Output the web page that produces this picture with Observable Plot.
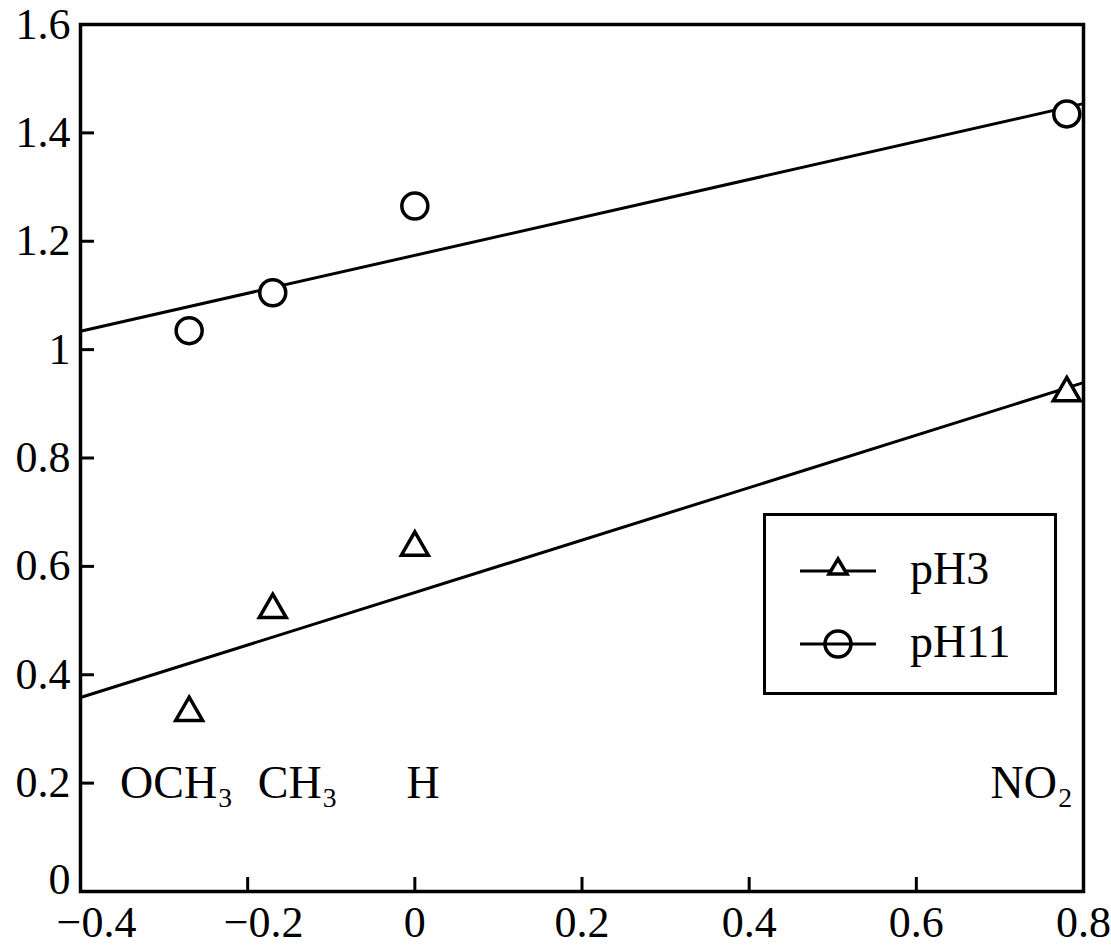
<!DOCTYPE html>
<html>
<head>
<meta charset="utf-8">
<script src="https://cdn.jsdelivr.net/npm/d3@7"></script>
<script src="https://cdn.jsdelivr.net/npm/@observablehq/plot@0.6"></script>
<style>
  html, body { margin: 0; padding: 0; background: #fff; }
  #wrap { position: relative; width: 1111px; height: 949px; font-family: "Liberation Serif", "DejaVu Serif", serif; }
  #legend { position: absolute; left: 763px; top: 513px; width: 288px; height: 176px; border: 3px solid #000; background: #fff; }
  .row { position: absolute; left: 0; height: 40px; }
  .row svg { position: absolute; left: 34px; top: 0; }
  .row span { position: absolute; left: 144px; top: -7px; font-size: 46px; line-height: 50px; color: #000; }
</style>
</head>
<body>
<div id="wrap"></div>
<script>
// Hammett substituent constants (sigma) and measured values
const substituents = ["OCH₃", "CH₃", "H", "NO₂"];
const sigma = [-0.27, -0.17, 0, 0.78];
const pH3 = [0.33, 0.52, 0.635, 0.92];
const pH11 = [1.035, 1.105, 1.265, 1.435];
// label anchor positions (data units)
const labelX = [-0.285, -0.14, 0.01, 0.738];
const labelY = [0.2, 0.2, 0.2, 0.2];
// fitted regression lines (endpoints)
const fitX = [-0.4, 0.8];
const fitPH3 = [0.358, 0.939];
const fitPH11 = [1.034, 1.454];
// ticks
const xTicks = [-0.4, -0.2, 0, 0.2, 0.4, 0.6, 0.8];
const xTickLabels = ["−0.4", "−0.2", "0", "0.2", "0.4", "0.6", "0.8"];
const yTicks = [0, 0.2, 0.4, 0.6, 0.8, 1, 1.2, 1.4, 1.6];
const yTickLabels = ["0", "0.2", "0.4", "0.6", "0.8", "1", "1.2", "1.4", "1.6"];

const points = sigma.map((s, i) => ({s, pH3: pH3[i], pH11: pH11[i]}));
const fitLines = fitX.map((x, i) => ({x, pH3: fitPH3[i], pH11: fitPH11[i]}));
const labels = substituents.map((t, i) => ({t, x: labelX[i], y: labelY[i]}));

const fontFamily = '"Liberation Serif", "DejaVu Serif", serif';
const W = 1111, H = 949, mL = 80, mR = 28, mT = 24, mB = 58;
const frameW = W - mL - mR, frameH = H - mT - mB;
const xDom = [-0.4, 0.8], yDom = [0, 1.6];
const tickLen = 14; // px, inward
const tickDX = tickLen / frameW * (xDom[1] - xDom[0]);
const tickDY = tickLen / frameH * (yDom[1] - yDom[0]);
const fs = 44;
const fmtX = (d) => xTickLabels[xTicks.indexOf(d)];
const fmtY = (d) => yTickLabels[yTicks.indexOf(d)];

const chart = Plot.plot({
  width: W,
  height: H,
  marginLeft: mL,
  marginRight: mR,
  marginTop: mT,
  marginBottom: mB,
  style: {fontFamily, background: "#fff", color: "#000", overflow: "visible"},
  x: {domain: xDom},
  y: {domain: yDom},
  marks: [
    Plot.axisY({ticks: yTicks.filter((d) => d > 0), tickFormat: fmtY, tickSize: 0, tickPadding: 10, fontSize: fs, label: null}),
    Plot.axisY({ticks: yTicks.filter((d) => d === 0), tickFormat: fmtY, tickSize: 0, tickPadding: 10, dy: -12, fontSize: fs, label: null}),
    Plot.axisX({ticks: xTicks.filter((d) => d < 0), tickFormat: fmtX, tickSize: 0, tickPadding: 14, dx: 16, fontSize: fs, label: null}),
    Plot.axisX({ticks: xTicks.filter((d) => d >= 0), tickFormat: fmtX, tickSize: 0, tickPadding: 14, fontSize: fs, label: null}),
    // inward tick marks
    Plot.ruleY(yTicks, {y: (d) => d, x1: xDom[0], x2: xDom[0] + tickDX, stroke: "#000", strokeWidth: 3}),
    Plot.ruleX(xTicks, {x: (d) => d, y1: yDom[0], y2: yDom[0] + tickDY, stroke: "#000", strokeWidth: 3}),
    Plot.frame({stroke: "#000", strokeWidth: 3.5}),
    Plot.line(fitLines, {x: "x", y: "pH11", stroke: "#000", strokeWidth: 3}),
    Plot.line(fitLines, {x: "x", y: "pH3", stroke: "#000", strokeWidth: 3}),
    Plot.dot(points, {x: "s", y: "pH11", symbol: "circle", r: 13, fill: "#fff", stroke: "#000", strokeWidth: 3.5}),
    Plot.dot(points, {x: "s", y: "pH3", symbol: "triangle", r: 10, fill: "#fff", stroke: "#000", strokeWidth: 3.5}),
    Plot.text(labels, {x: "x", y: "y", text: "t", fontSize: 46, fill: "#000"})
  ]
});

const wrap = document.getElementById("wrap");
wrap.appendChild(chart);

const legend = document.createElement("div");
legend.id = "legend";
legend.innerHTML = `
  <div class="row" style="top:35px">
    <svg width="76" height="40" viewBox="0 0 76 40">
      <line x1="0" y1="20" x2="76" y2="20" stroke="#000" stroke-width="3"/>
      <path d="M38,8 L47,23 L29,23 Z" fill="#fff" stroke="#000" stroke-width="3.5"/>
    </svg>
    <span>pH3</span>
  </div>
  <div class="row" style="top:108px">
    <svg width="76" height="40" viewBox="0 0 76 40">
      <line x1="0" y1="20" x2="76" y2="20" stroke="#000" stroke-width="3"/>
      <circle cx="38" cy="20" r="13" fill="none" stroke="#000" stroke-width="3.5"/>
    </svg>
    <span>pH11</span>
  </div>`;
wrap.appendChild(legend);
</script>
</body>
</html>
